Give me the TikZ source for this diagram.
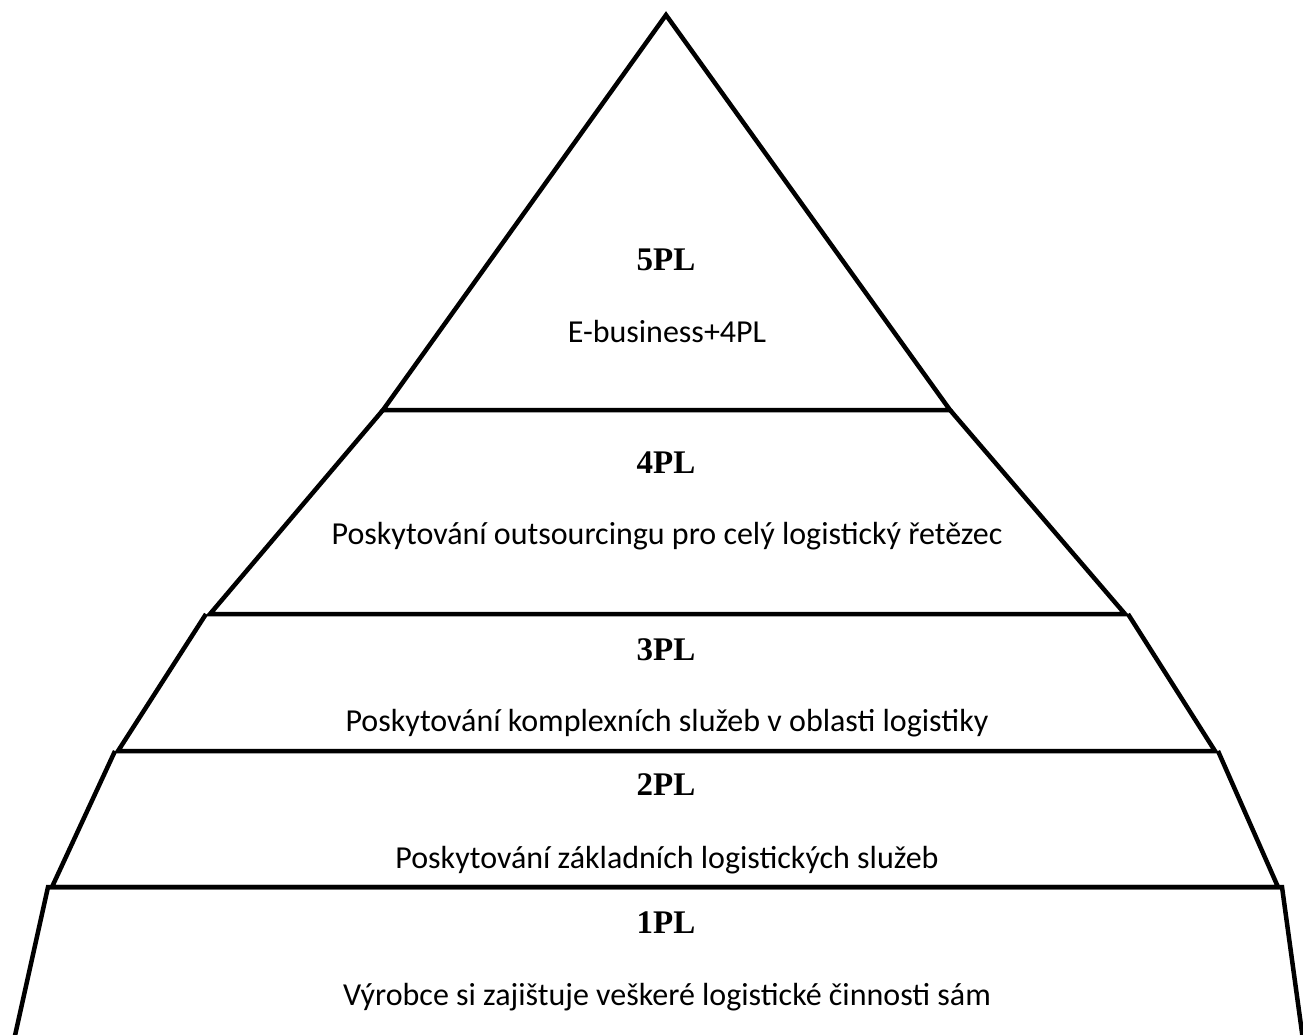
\documentclass[tikz,border=0pt]{standalone}
\usepackage{fontspec}
\setmainfont{Liberation Serif}
\newfontfamily\bodyfont{Carlito}
\begin{document}
\begin{tikzpicture}[x=1pt,y=-1pt,
  layer/.style={line width=4.5pt,line join=miter,line cap=butt},
  level/.style={font=\fontsize{33}{38}\selectfont\bfseries,inner sep=0pt},
  desc/.style={font=\bodyfont\fontsize{32}{38}\selectfont,inner sep=0pt}]
\useasboundingbox (0,0) rectangle (1303,1034);
% top triangle
\draw[layer] (383,410) -- (666,15) -- (950,410) -- cycle;
% 4PL band
\draw[layer] (383,410) -- (210,614) -- (1125,614) -- (950,410);
% 3PL band
\draw[layer] (206,614) -- (118,751) -- (1215,751) -- (1128,614);
% 2PL band
\draw[layer] (115,751) -- (52,887) -- (1278,887) -- (1218,751);
% 1PL band, open at the bottom
\draw[layer] (14,1040) -- (48,887) -- (1282,887) -- (1303,1040);
% labels
\node[level] (l5) at (666,260) {5PL};
\node[desc]  (d5) at (667,331) {E-business+4PL};
\node[level] (l4) at (666,463) {4PL};
\node[desc]  (d4) at (667,536) {Poskytování outsourcingu pro celý logistický řetězec};
\node[level] (l3) at (666,650) {3PL};
\node[desc]  (d3) at (667,723) {Poskytování komplexních služeb v oblasti logistiky};
\node[level] (l2) at (666,785) {2PL};
\node[desc]  (d2) at (667,860) {Poskytování základních logistických služeb};
\node[level] (l1) at (666,923) {1PL};
\node[desc]  (d1) at (667,997) {Výrobce si zajištuje veškeré logistické činnosti sám};
\end{tikzpicture}
\end{document}
